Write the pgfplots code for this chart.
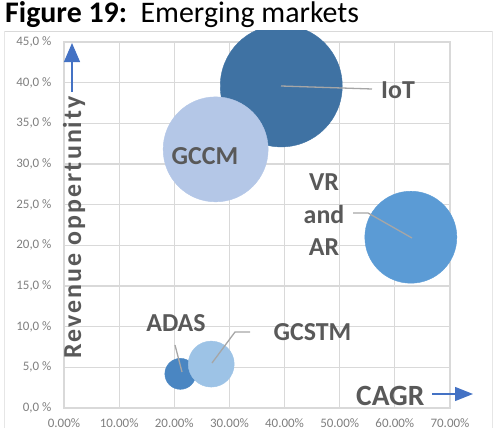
\documentclass[border=0pt]{standalone}
\usepackage{fontspec}
\setmainfont{Carlito}
\newfontfamily\spacedfont[LetterSpace=8]{Carlito}
\usepackage{pgfplots}
\pgfplotsset{compat=1.18}
\usetikzlibrary{arrows.meta}
\definecolor{gridc}{HTML}{D9D9D9}
\definecolor{tickc}{HTML}{7F7F7F}
\definecolor{labc}{HTML}{595959}
\definecolor{iotc}{HTML}{3F72A3}
\definecolor{gccmc}{HTML}{B4C7E7}
\definecolor{vrc}{HTML}{5B9BD5}
\definecolor{adasc}{HTML}{4A86C2}
\definecolor{gcstmc}{HTML}{9DC3E6}
\definecolor{arrc}{HTML}{4472C4}
\definecolor{leadc}{HTML}{A6A6A6}
\begin{document}
\begin{tikzpicture}[x=1bp,y=1bp]
\useasboundingbox (-64,-19) rectangle (433,408);
\node[anchor=base west, inner sep=0, font=\fontsize{30}{32}\selectfont] at (-59,386) {\textbf{Figure 19:}\ \ Emerging markets};
\begin{scope}
\clip (-59.5,-30) rectangle (428.5,377.5);
\draw[gridc, line width=1bp] (-59,-30) rectangle (428,377);
\begin{axis}[
  at={(0bp,0bp)}, anchor=south west,
  width=386bp, height=366bp, scale only axis,
  xmin=0, xmax=70, ymin=0, ymax=45,
  clip=false,
  xtick={0,10,...,70}, ytick={0,5,...,45},
  xticklabels={0.00\%,10.00\%,20.00\%,30.00\%,40.00\%,50.00\%,60.00\%,70.00\%},
  yticklabels={{0,0 \%},{5,0 \%},{10,0 \%},{15,0 \%},{20,0 \%},{25,0 \%},{30,0 \%},{35,0 \%},{40,0 \%},{45,0 \%}},
  grid=major, grid style={gridc, line width=1.2bp},
  axis line style={gridc, line width=1.2bp},
  major tick length=0pt, tick style={draw=none},
  ticklabel style={font=\fontsize{13}{14}\selectfont, text=tickc},
  xticklabel style={anchor=base, yshift=-19bp},
  yticklabel style={anchor=east, xshift=-9bp},
]
\addplot[only marks, mark=*, color=iotc, mark size=61bp] coordinates {(39.4,39.6)};
\addplot[only marks, mark=*, color=gccmc, mark size=52.5bp] coordinates {(27.5,31.8)};
\addplot[only marks, mark=*, color=vrc, mark size=46bp] coordinates {(62.9,21.0)};
\addplot[only marks, mark=*, color=adasc, mark size=15.5bp] coordinates {(21.1,4.2)};
\addplot[only marks, mark=*, color=gcstmc, mark size=23bp] coordinates {(26.7,5.4)};
\end{axis}
% leader lines
\draw[leadc, line width=1.3bp] (217,322) -- (278,320) -- (308,319);
\draw[leadc, line width=1.3bp] (348,170) -- (304,195) -- (289,195);
\draw[leadc, line width=1.3bp] (118,36) -- (111,63);
\draw[leadc, line width=1.3bp] (148,45) -- (171,76) -- (186,76);
% labels
\begin{scope}[every node/.style={inner sep=0, text=labc, font=\fontsize{26}{28}\selectfont\bfseries}]
\node[anchor=base west] at (317,310) {IoT};
\node[anchor=base] at (141,244) {GCCM};
\node[anchor=base] at (260,218) {VR};
\node[anchor=base] at (260,185) {and};
\node[anchor=base] at (260,153) {AR};
\node[anchor=base] at (112,77) {ADAS};
\node[anchor=base] at (248.5,68) {GCSTM};
\end{scope}
\node[anchor=base west, inner sep=0, text=labc, font=\fontsize{29.5}{32}\selectfont\bfseries] at (292,3) {CAGR};
\draw[arrc, line width=1.3bp, -{Triangle[length=18bp, width=14bp]}] (368,14) -- (409,14);
\draw[arrc, line width=1.3bp, -{Triangle[length=19bp, width=16bp]}] (8,316) -- (8,365);
\node[rotate=90, anchor=base, inner sep=0, text=labc, font=\spacedfont\bfseries\fontsize{26}{28}\selectfont] at (17,180.5) {Revenue oppertunity};
\end{scope}
\end{tikzpicture}
\end{document}
